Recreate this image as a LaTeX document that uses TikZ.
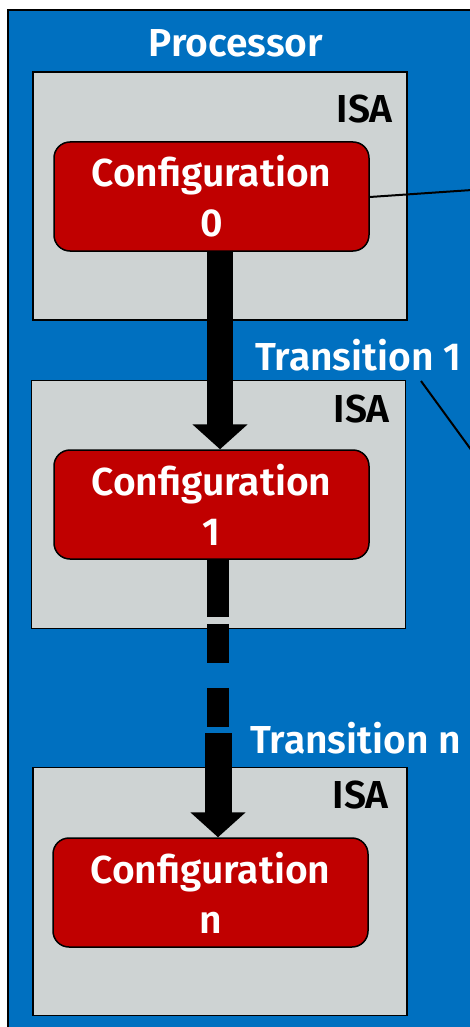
\documentclass[tikz,border=0pt]{standalone}
\usepackage{fontspec}
\setmainfont{Fira Sans}[BoldFont={Fira Sans SemiBold}]
\usetikzlibrary{arrows.meta}
\definecolor{procblue}{RGB}{0,112,192}
\definecolor{cfgred}{RGB}{192,0,0}
\definecolor{isagrey}{RGB}{206,211,211}
\tikzset{
  isabox/.style={draw=black, line width=1.5pt, fill=isagrey, minimum width=374pt, minimum height=248pt, inner sep=0pt},
  cfgbox/.style={draw=black, line width=1.5pt, fill=cfgred, rounded corners=16pt, minimum width=315pt, minimum height=109pt, inner sep=0pt, text=white, align=center, font=\bfseries\fontsize{39}{50}\selectfont},
  isalabel/.style={anchor=base east, inner sep=0pt, font=\bfseries\fontsize{39}{47}\selectfont, text=black},
  whitelabel/.style={inner sep=0pt, font=\bfseries\fontsize{39}{47}\selectfont, text=white},
  bigarrow/.style={line width=26pt, -{Triangle[width=54pt,length=25pt]}},
  thinline/.style={draw=black, line width=2pt}
}
\begin{document}
\begin{tikzpicture}[x=1pt,y=-1pt]
\useasboundingbox (0,0) rectangle (470,1027);
\clip (0,0) rectangle (470,1027);
\fill[white] (0,0) rectangle (470,1027);
\draw[fill=procblue, line width=2pt] (8,10) rectangle (490,1045);
\node[whitelabel, anchor=base] (proc) at (236,57) {Processor};

\node[isabox] (isa0) at (220,196) {};
\node[isabox] (isa1) at (218.5,504.5) {};
\node[isabox] (isa2) at (220,891.5) {};

\node[isalabel] (isal0) at (393,123) {ISA};
\node[isalabel] (isal1) at (390,422) {ISA};
\node[isalabel] (isal2) at (389,808) {ISA};

\node[cfgbox] (c0) at (211.5,196.5) {Configuration\\0};
\node[cfgbox] (c1) at (211.5,504.5) {Configuration\\1};
\node[cfgbox] (cn) at (210.5,892.5) {Configuration\\n};

\node[whitelabel, anchor=base west] (t1) at (255,370) {Transition 1};
\node[whitelabel, anchor=base west] (tn) at (250,753) {Transition n};

\draw[bigarrow] ([xshift=8.5pt]c0.south) -- ([xshift=8.5pt]c1.north);
\coordinate (mid) at (218,733);
\draw[line width=22pt, dash pattern=on 57pt off 7pt on 39pt off 25pt on 39pt off 7pt] ([xshift=6.5pt]c1.south) -- (mid);
\draw[bigarrow, line width=27pt] (mid) -- ([xshift=7.5pt]cn.north);

\coordinate (r0) at (472,190);
\coordinate (r1a) at (421,381);
\coordinate (r1) at (472,451);
\draw[thinline] (c0.east |- 0,197) -- (r0);
\draw[thinline] (r1a) -- (r1);
\end{tikzpicture}
\end{document}
